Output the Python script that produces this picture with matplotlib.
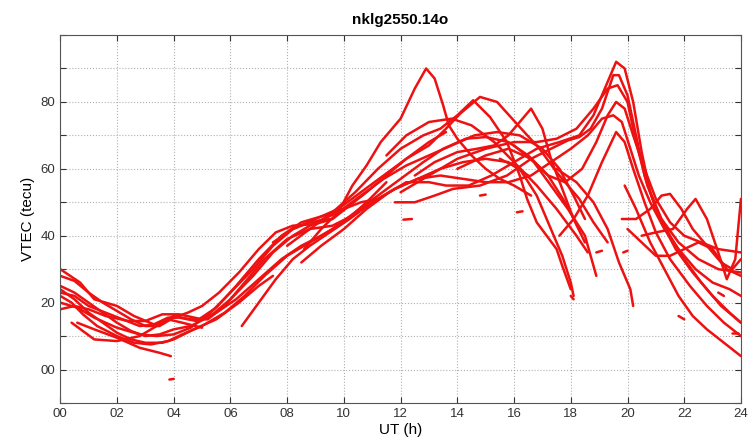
import matplotlib
matplotlib.use('Agg')
import matplotlib.pyplot as plt
from matplotlib.ticker import MultipleLocator, FuncFormatter

plt.rcParams['font.family'] = ['Liberation Sans', 'DejaVu Sans']

# satellite tracks: (UT hour, VTEC)
t1 = [(0, 30), (0.7, 26), (1.2, 21), (2, 19), (2.6, 16), (3.3, 13.5), (3.8, 15.5), (4.2, 15.5),
      (4.8, 14.5), (5.5, 18.5), (6.2, 25), (7, 33), (7.8, 40), (8.5, 44), (9.3, 46), (10, 48),
      (10.6, 50), (11.2, 51)]
t2 = [(0, 28), (0.5, 26.5), (1, 23), (1.5, 20), (2, 17.5), (2.5, 15), (3, 13), (3.5, 13), (4, 15.5),
      (4.5, 17), (5, 19), (5.6, 23), (6.3, 29), (7, 36), (7.6, 41), (8.2, 43), (9, 43.5), (9.6, 45),
      (10.2, 49), (10.8, 53), (11.5, 58), (12.2, 63), (13, 68), (13.6, 71)]
t3 = [(0, 25), (0.5, 23), (1, 20), (1.5, 17), (2, 14), (2.5, 11.5), (3, 10), (3.5, 10.5), (4, 12),
      (4.6, 13), (5.3, 16), (6, 21), (6.8, 28), (7.5, 35), (8.2, 40), (9, 44), (9.8, 47), (10.6, 52),
      (11.4, 57), (12.2, 61), (13, 64), (13.8, 67), (14.6, 70), (15.4, 71), (16.2, 70), (17, 66),
      (17.6, 60), (18.1, 52), (18.5, 45)]
t4 = [(0, 24), (0.5, 21), (1, 17), (1.5, 14), (2, 11), (2.5, 9), (3, 8), (3.6, 8), (4, 9), (4.7, 12),
      (5.5, 15), (6.3, 20), (7, 25), (7.5, 28)]
t5 = [(0, 22), (0.4, 20), (0.8, 16.5), (1.3, 13), (2, 10), (2.6, 8), (3.2, 7.5), (3.8, 8.5),
      (4.3, 10.5), (5, 13), (5.8, 17), (6.5, 22), (7.2, 28), (8, 34), (8.8, 38), (9.6, 42),
      (10.4, 47), (11.2, 52), (12, 57), (12.8, 62), (13.5, 66), (14.3, 69), (15, 69.5), (15.8, 68),
      (16.5, 64), (17.2, 58), (17.8, 50), (18.3, 42)]
t6 = [(0, 20), (0.6, 18.5), (1.2, 15.5), (2, 12.5), (2.8, 10.5), (3.4, 10), (4, 10.5), (4.6, 12.5),
      (5.3, 17), (6, 23), (6.8, 30), (7.5, 37), (8.2, 42), (8.8, 44), (9.5, 45)]
t7 = [(0, 18), (0.5, 19), (1, 18), (1.6, 16), (2.4, 14.5), (3, 14.5), (3.6, 16.5), (4.2, 16.5),
      (5, 15), (5.5, 17), (6.2, 21), (7, 27), (7.8, 33), (8.5, 37), (9.2, 40), (10, 44), (10.8, 50),
      (11.5, 56)]
t8 = [(0.6, 14), (1.2, 12), (2, 9.5), (2.8, 6.5), (3.5, 5), (3.9, 4)]
t9 = [(0.4, 14), (1.2, 9), (2, 8.5), (2.8, 10), (3.3, 12.5), (3.8, 15), (4.3, 14), (5, 12.5)]
t10 = [(0, 23), (0.5, 22), (1, 19), (1.6, 17), (2.2, 15), (2.8, 13), (3.4, 13.5), (4, 16),
       (4.6, 15), (5.2, 15), (5.8, 19), (6.5, 26), (7.2, 33), (8, 39), (8.8, 42), (9.6, 43),
       (10.3, 46), (11, 50), (11.8, 54), (12.6, 57), (13.4, 60), (14.2, 62), (15, 63), (15.8, 62),
       (16.5, 58)]
t11 = [(8.6, 36), (9.2, 42), (9.8, 47), (10.3, 55), (10.8, 61), (11.3, 68), (12, 75), (12.5, 84),
       (12.9, 90), (13.2, 87), (13.5, 79), (13.7, 73), (14, 69), (14.5, 64), (15, 60), (15.5, 57),
       (16, 55), (16.6, 52)]
t12 = [(6.4, 13), (7, 20), (7.6, 27), (8.2, 33), (8.8, 37), (9.5, 41), (10.2, 45), (11, 50),
       (11.8, 54), (12.6, 57), (13.4, 58), (14.2, 57), (15, 56), (15.8, 56), (16.6, 58), (17.3, 62),
       (18, 66), (18.6, 70), (19.1, 75), (19.5, 76), (19.8, 74), (20.1, 66), (20.4, 58), (20.8, 50),
       (21.3, 42), (21.8, 36), (22.4, 30), (23, 26), (23.6, 24), (24, 22)]
t13 = [(8.5, 32), (9.2, 37), (10, 42), (10.8, 48), (11.6, 53), (12.2, 56), (13, 56), (13.6, 55),
       (14.4, 55), (15.2, 58), (16, 62), (16.8, 66), (17.6, 68), (18.3, 70), (18.8, 76), (19.2, 84),
       (19.6, 92), (19.9, 90), (20.2, 80), (20.5, 65), (20.8, 53), (21.2, 44), (21.7, 36), (22.3, 29),
       (23, 22), (23.6, 17), (24, 14)]
t14 = [(7.5, 38), (8.2, 42), (9, 45), (9.8, 48), (10.6, 53), (11.4, 58), (12.2, 63), (13, 67),
       (13.6, 72), (14.1, 76.5), (14.8, 81.5), (15.4, 80), (16.2, 72.5), (16.9, 66), (17.5, 59),
       (18.3, 51), (18.8, 44), (19.3, 38)]
t15 = [(8, 37), (8.8, 42), (9.6, 47), (10.4, 53), (11.2, 60), (12, 66), (12.8, 70), (13.4, 72),
       (14, 76), (14.56, 80.5), (15.15, 75.5), (15.75, 68), (16.2, 58), (16.46, 51), (16.8, 44),
       (17.5, 36), (17.7, 31), (18, 24)]
t16 = [(12.5, 58), (13.2, 62), (14, 65), (14.7, 66), (15.3, 67), (15.8, 70), (16.2, 74), (16.6, 78),
       (17, 72), (17.3, 63), (17.7, 54), (18.1, 45), (18.5, 38)]
t17 = [(11.8, 50), (12.5, 50), (13.2, 52), (13.85, 54), (14.8, 55), (15.75, 58), (16.6, 63),
       (17.3, 66), (17.9, 68.5), (18.3, 69.5), (18.7, 72), (19.1, 78), (19.5, 88), (19.7, 88),
       (20, 82), (20.3, 70), (20.6, 58), (21, 48), (21.5, 40), (22, 33), (22.6, 26), (23.3, 19),
       (24, 14)]
t18 = [(12, 53), (13, 58), (14, 63), (15, 66), (16, 68), (16.8, 68), (17.5, 69), (18.2, 72),
       (18.8, 78), (19.3, 84), (19.65, 85), (20, 80), (20.3, 68), (20.7, 55), (21.2, 45), (21.8, 38),
       (22.5, 33), (23.2, 30), (24, 29)]
t19 = [(14, 60), (15, 64), (15.8, 66), (16.6, 63), (17.2, 58), (17.8, 56), (18.4, 60), (18.9, 68),
       (19.3, 76), (19.6, 80), (19.9, 78), (20.2, 70), (20.6, 60), (21, 51), (21.5, 44), (22, 40),
       (22.6, 38), (23.2, 36), (24, 35)]
t20 = [(17.6, 40), (18.1, 45), (18.6, 52), (19.1, 62), (19.6, 71), (19.9, 68), (20.2, 60),
       (20.6, 50), (21, 41), (21.5, 33), (22.2, 25), (22.8, 19), (23.4, 14), (24, 10)]
t21 = [(19.8, 45), (20.3, 45), (20.8, 48), (21.2, 52), (21.5, 52.5), (21.9, 48), (22.3, 42),
       (22.8, 37), (23.3, 32), (23.7, 30), (24, 33)]
t22 = [(20.5, 40), (21, 41), (21.6, 42), (22.1, 48), (22.4, 51), (22.8, 45), (23.2, 35), (23.5, 27),
       (23.8, 33), (24, 51)]
t23 = [(19.9, 55), (20.3, 48), (20.8, 38), (21.3, 30), (21.8, 22), (22.3, 16), (22.8, 12),
       (23.4, 8), (24, 4)]
t24 = [(15.5, 63), (16.2, 60), (16.8, 52), (17.3, 42), (17.7, 34), (18, 26), (18.1, 22)]
t25 = [(16, 67), (16.7, 62), (17.3, 55), (17.9, 48), (18.5, 40), (18.9, 28)]
t26 = [(17.5, 60), (18.2, 56), (18.8, 50), (19.3, 42), (19.7, 32), (20.1, 24), (20.2, 19)]
t27 = [(20, 42), (20.5, 38), (21, 34), (21.5, 34), (22, 36), (22.5, 38), (23, 36), (23.5, 30),
       (24, 28)]
t28 = [(11.5, 64), (12.2, 70), (13, 74), (13.8, 75), (14.5, 73), (15.3, 68), (16, 62), (16.8, 55),
       (17.5, 48), (18.2, 40), (18.6, 35)]

# short fragments
frags = [[(3.85, -3), (4.0, -2.8)], [(12.1, 44.8), (12.4, 45)], [(14.8, 52), (15.0, 52.3)],
         [(16.1, 47), (16.3, 47.3)], [(18.0, 22), (18.1, 21)], [(18.9, 35), (19.1, 35.5)],
         [(19.85, 35), (20.0, 35.5)], [(21.8, 16), (22.0, 15)], [(23.2, 23), (23.4, 22)],
         [(23.7, 11), (23.9, 11)]]

tracks = [t1, t2, t3, t4, t5, t6, t7, t8, t9, t10, t11, t12, t13, t14,
          t15, t16, t17, t18, t19, t20, t21, t22, t23, t24, t25, t26, t27, t28]

fig = plt.figure(figsize=(7.53, 4.38), dpi=100)
ax = fig.add_axes([0.080, 0.080, 0.904, 0.840])

for tr in tracks + frags:
    xs = [p[0] for p in tr]
    ys = [p[1] for p in tr]
    ax.plot(xs, ys, color='#ee1111', lw=1.8, solid_capstyle='round')

ax.set_xlim(0, 24)
ax.set_ylim(-10, 100)
ax.xaxis.set_major_locator(MultipleLocator(2))
ax.yaxis.set_major_locator(MultipleLocator(10))
ax.xaxis.set_major_formatter(FuncFormatter(lambda v, p: '%02d' % v))
ax.yaxis.set_major_formatter(FuncFormatter(
    lambda v, p: '%02d' % v if (0 <= v <= 80 and int(round(v)) % 20 == 0) else ''))
ax.tick_params(direction='in', top=True, right=True, length=4, labelsize=9.5, colors='#333333')
for s in ax.spines.values():
    s.set_color('#555555')
ax.grid(True, linestyle=':', color='#b0b0b0', lw=0.8)

ax.set_title('nklg2550.14o', fontsize=11, fontweight='bold', pad=8)
ax.set_xlabel('UT (h)', fontsize=11, labelpad=2)
ax.set_ylabel('VTEC (tecu)', fontsize=11, labelpad=4)

fig.savefig('out.png', dpi=100)
